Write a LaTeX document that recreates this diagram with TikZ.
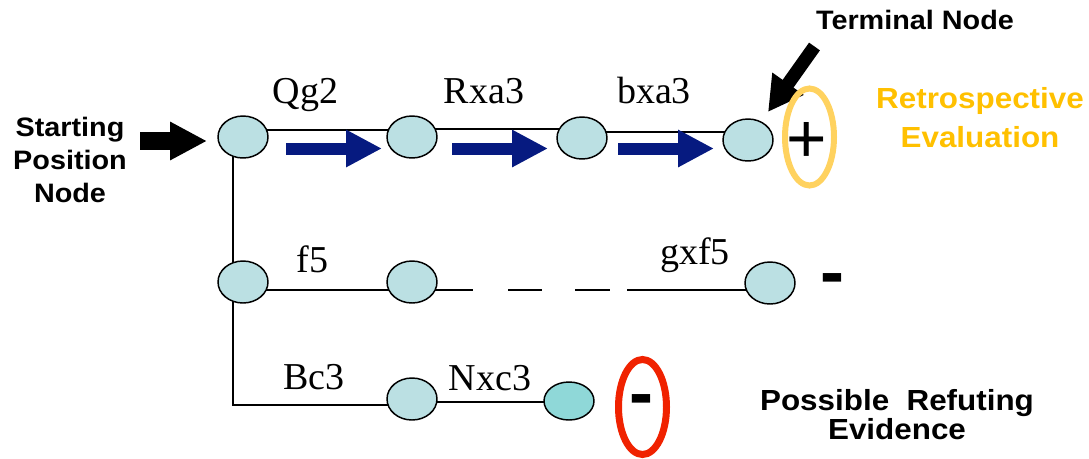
\documentclass[tikz,border=0pt]{standalone}
\usepackage{fontspec}
\setmainfont{Liberation Serif}
\newfontfamily\sansbold[FakeStretch=1.08]{Liberation Sans}
\newfontfamily\sansplain{Liberation Sans}
\usetikzlibrary{shapes.geometric,arrows.meta,calc}
\pgfdeclarelayer{bg}
\pgfsetlayers{bg,main}
\definecolor{nodefill}{RGB}{187,224,227}
\definecolor{nodefilldark}{RGB}{143,216,216}
\definecolor{navyarrow}{RGB}{6,26,128}
\definecolor{ringyellow}{RGB}{255,210,95}
\definecolor{evalorange}{RGB}{255,192,0}
\definecolor{ringred}{RGB}{240,34,0}
\begin{document}
\begin{tikzpicture}[x=0.75pt,y=-0.75pt,
  mv/.style={ellipse,draw,line width=1.1pt,fill=nodefill,minimum width=37.5pt,minimum height=31.5pt,inner sep=0pt},
  movelabel/.style={font=\fontsize{28.5}{30}\selectfont,anchor=base,inner sep=0pt},
  link/.style={line width=1.1pt},
  bluearrow/.style={draw=navyarrow,line width=9pt,-{Triangle[length=27pt,width=26.25pt]}},
  blackarrow/.style={line width=13pt,-{Triangle[length=27.75pt,width=27pt]}},
  sanslabel/.style={font=\sansbold\bfseries,align=center,inner sep=0pt},
  ring/.style={ellipse,draw,inner sep=0pt},
  sign/.style={inner sep=0pt,anchor=base}]
\useasboundingbox (0,0) rectangle (1089,458);

% move nodes
\node[mv] (a0) at (243,137) {};
\node[mv] (a1) at (412,137) {};
\node[mv] (a2) at (582,138) {};
\node[mv] (a3) at (748,140) {};
\node[mv] (b0) at (243,282) {};
\node[mv] (b1) at (412,282) {};
\node[mv] (b2) at (770,283) {};
\node[mv] (c1) at (412,399) {};
\node[mv,fill=nodefilldark,minimum height=28.5pt] (c2) at (569,401) {};

% connectors
\begin{pgfonlayer}{bg}
\draw[link] ($(a0.center)+(0,-7)$) -- ($(a1.center)+(0,-7)$);
\draw[link] ($(a1.center)+(0,-8)$) -- ($(a2.center)+(0,-9)$);
\draw[link] ($(a2.center)+(0,-6)$) -- ($(a3.center)+(0,-8)$);
\draw[link] ($(a0.center)+(-10,0)$) |- ($(c1.center)+(0,6)$);
\draw[link] ($(b0.center)+(0,8)$) -- ($(b1.center)+(0,8)$);
\draw[link,dash pattern=on 45.75pt off 26.25pt on 25.5pt off 24.75pt on 26.25pt off 12.75pt on 150pt]
  ($(b1.center)+(0,8)$) -- ($(b2.center)+(0,7)$);
\draw[link] ($(c1.center)+(0,3)$) -- ($(c2.center)+(0,1)$);
\end{pgfonlayer}

% move labels
\node[movelabel] (lqg2) at (305.5,103) {Qg2};
\node[movelabel] (lrxa3) at (484,103) {Rxa3};
\node[movelabel] (lbxa3) at (654,103) {bxa3};
\node[movelabel] (lf5) at (312.5,272) {f5};
\node[movelabel] (lgxf5) at (695,264) {gxf5};
\node[movelabel] (lbc3) at (314,389) {Bc3};
\node[movelabel] (lnxc3) at (490,390) {Nxc3};

% blue arrows
\draw[bluearrow] ($(a0.center)+(43,11.5)$) -- ($(a1.center)+(-30,11.5)$);
\draw[bluearrow] ($(a1.center)+(40,11.5)$) -- ($(a2.center)+(-34,10.5)$);
\draw[bluearrow] ($(a2.center)+(36,10.5)$) -- ($(a3.center)+(-34,8.5)$);

% annotations
\node[sanslabel,font=\sansbold\bfseries\fontsize{20}{25}\selectfont] (start) at (70,160) {Starting\\Position\\Node};
\coordinate (starttail) at (140,141);
\draw[blackarrow] (starttail) -- ($(a0.center)+(-36,4)$);

\node[sanslabel,font=\sansbold\bfseries\fontsize{20}{22}\selectfont,anchor=base] (term) at (915,29) {Terminal Node};
\coordinate (termtail) at (814.5,46.5);
\draw[line width=10pt,-{Triangle[length=26pt,width=27pt]}] (termtail) -- ($(a3.center)+(20,-28)$);

\node[ring,draw=ringyellow,line width=4.5pt,minimum width=36.75pt,minimum height=72.75pt] (ringplus) at (809.5,137) {};
\node[sign,font=\sansplain\fontsize{52}{52}\selectfont] (plus) at (807,162.5) {+};
\node[sanslabel,text=evalorange,font=\sansbold\bfseries\fontsize{21.8}{29.25}\selectfont] (retro) at (980,117.5) {Retrospective\\Evaluation};

\node[sign,font=\sansplain\bfseries\fontsize{54}{54}\selectfont] (minusa) at (832.5,296) {-};

\node[ring,draw=ringred,line width=5.25pt,minimum width=36pt,minimum height=71.25pt] (ringminus) at (642.5,407) {};
\node[sign,font=\sansplain\bfseries\fontsize{54}{54}\selectfont] (minusb) at (641.5,417) {-};
\node[sanslabel,font=\sansbold\bfseries\fontsize{21.8}{21.5}\selectfont] (refute) at (897,414.5) {Possible\ \ Refuting\\Evidence};
\end{tikzpicture}
\end{document}
